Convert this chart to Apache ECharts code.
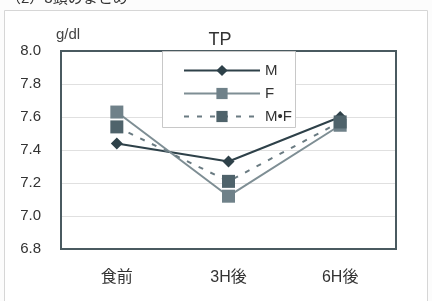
<!DOCTYPE html>
<html>
<head>
<meta charset="utf-8">
<script src="https://cdn.jsdelivr.net/npm/echarts@6/dist/echarts.min.js"></script>
<style>
  html, body { margin: 0; padding: 0; background: #fff; }
  #chart { width: 432px; height: 301px; }
</style>
</head>
<body>
<div id="chart"></div>
<script>
// time points and TP values (g/dl)
var categories = ["食前", "3H後", "6H後"];
var seriesNames = ["M", "F", "M•F"];
var valuesM = [7.44, 7.33, 7.60];
var valuesF = [7.63, 7.12, 7.55];
var valuesMF = [7.54, 7.21, 7.57];
var yTicks = [6.8, 7.0, 7.2, 7.4, 7.6, 7.8, 8.0];

var chart = echarts.init(document.getElementById("chart"));
var font = "Liberation Sans, Arial, Noto Sans CJK JP, sans-serif";

var option = {
  backgroundColor: "#fcfcfc",
  animation: false,
  textStyle: { fontFamily: font },
  title: {
    text: "TP",
    left: 215,
    top: 26,
    textAlign: "center",
    textStyle: { fontSize: 18, fontWeight: "normal", color: "#333" }
  },
  graphic: [
    {
      type: "rect",
      shape: { x: 4.5, y: 10.5, width: 423, height: 292 },
      style: { fill: "#fff", stroke: "#d6d6d6", lineWidth: 1 },
      z: -10
    },
    {
      type: "text",
      left: 6,
      top: -9,
      style: { text: "（2）3頭のまとめ", fontSize: 15, fill: "#333", fontFamily: font }
    },
    {
      type: "text",
      left: 56,
      top: 27,
      style: { text: "g/dl", fontSize: 15, fill: "#444", fontFamily: font }
    },
    {
      type: "rect",
      shape: { x: 162.5, y: 51.5, width: 133, height: 76 },
      style: { fill: "#fff", stroke: "#c8c8c8", lineWidth: 1 },
      z: 5
    },
    {
      type: "rect",
      shape: { x: 61, y: 51, width: 335, height: 198 },
      style: { fill: "none", stroke: "#4a5a60", lineWidth: 2 },
      z: 4
    }
  ],
  legend: {
    orient: "vertical",
    left: 178,
    top: 58,
    itemGap: 8,
    itemWidth: 76,
    itemHeight: 14,
    z: 10,
    textStyle: { fontSize: 15, color: "#333" },
    data: seriesNames
  },
  grid: { left: 61, right: 36, top: 51, bottom: 52 },
  xAxis: {
    type: "category",
    data: categories,
    axisTick: { show: false },
    axisLine: { show: true, lineStyle: { color: "#4a5a60", width: 2 } },
    axisLabel: { fontSize: 16, color: "#333", margin: 21 }
  },
  yAxis: {
    type: "value",
    min: yTicks[0],
    max: yTicks[yTicks.length - 1],
    interval: 0.2,
    axisLine: { show: true, lineStyle: { color: "#4a5a60", width: 2 } },
    axisTick: { show: false },
    splitLine: { lineStyle: { color: "#e0e0e0" } },
    axisLabel: {
      fontSize: 15,
      color: "#333",
      margin: 20,
      formatter: function (v) { return v.toFixed(1); }
    }
  },
  series: [
    {
      name: seriesNames[0],
      type: "line",
      data: valuesM,
      symbol: "diamond",
      symbolSize: 12,
      lineStyle: { color: "#2e4149", width: 2 },
      itemStyle: { color: "#2e4149" }
    },
    {
      name: seriesNames[1],
      type: "line",
      data: valuesF,
      symbol: "rect",
      symbolSize: 13,
      lineStyle: { color: "#7e8e94", width: 2 },
      itemStyle: { color: "#6f8189" }
    },
    {
      name: seriesNames[2],
      type: "line",
      data: valuesMF,
      symbol: "rect",
      symbolSize: 13,
      lineStyle: { color: "#6a7b82", width: 2, type: [5, 8] },
      itemStyle: { color: "#4f636b" }
    }
  ]
};

chart.setOption(option);
</script>
</body>
</html>
